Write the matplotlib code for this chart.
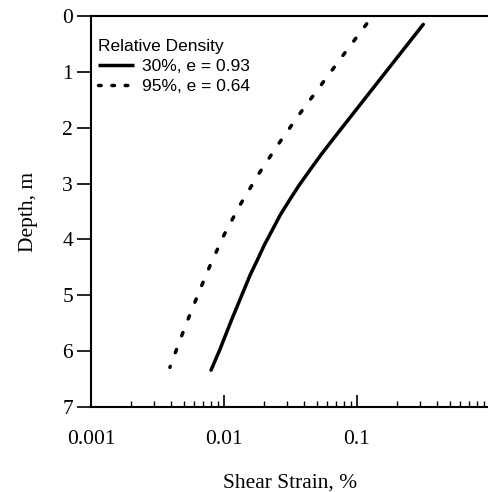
import matplotlib
matplotlib.use('Agg')
import matplotlib.pyplot as plt
from matplotlib.ticker import LogLocator, NullFormatter
import numpy as np

# depth (m) vs shear strain (%)
depth_30 = [0.15, 1.0, 2.22, 2.49, 2.76, 3.03, 3.29, 3.56, 3.83, 4.10, 4.37, 4.64,
            4.91, 5.44, 5.98, 6.34]
strain_30 = [0.315, 0.1649, 0.0653, 0.0534, 0.0442, 0.0367, 0.0312, 0.0265, 0.0231,
             0.0201, 0.0178, 0.0157, 0.0141, 0.0114, 0.00928, 0.00799]
depth_95 = [0.14, 0.68, 1.22, 1.75, 2.29, 2.83, 3.37, 3.90, 4.44, 4.98, 5.51, 6.05, 6.29]
strain_95 = [0.1183, 0.0799, 0.0543, 0.0371, 0.0257, 0.0182, 0.0133, 0.0101, 0.00794,
             0.00639, 0.00520, 0.00427, 0.00392]
labels = ['30%, e = 0.93', '95%, e = 0.64']
legend_title = 'Relative Density'
xticks = [0.001, 0.01, 0.1, 1]
xticklabels = ['0.001', '0.01', '0.1', '1']
yticks = [0, 1, 2, 3, 4, 5, 6, 7]

serif = ['Liberation Serif', 'DejaVu Serif']
sans = ['Liberation Sans', 'DejaVu Sans']

fig = plt.figure(figsize=(4.88, 4.92), dpi=100)
ax = fig.add_axes([91/488, 1 - 407/492, 399/488, 391/492])

ax.plot(strain_30, depth_30, color='black', lw=2.5, solid_capstyle='round',
        solid_joinstyle='round', label=labels[0])
ax.plot(strain_95, depth_95, color='black', lw=2.5, dash_capstyle='round',
        dashes=(1.0, 4.2), label=labels[1])

ax.set_xscale('log')
ax.set_xlim(0.001, 1)
ax.set_ylim(7, 0)

ax.set_xticks(xticks)
ax.set_xticklabels(xticklabels, family=serif, fontsize=15.5)
ax.xaxis.set_minor_locator(LogLocator(base=10, subs=np.arange(2, 10)))
ax.xaxis.set_minor_formatter(NullFormatter())
ax.set_yticks(yticks)
ax.set_yticklabels([str(v) for v in yticks], family=serif, fontsize=15.5)

ax.tick_params(axis='x', which='major', direction='in', length=8.5, width=1.2, pad=16.5)
ax.tick_params(axis='x', which='minor', direction='in', length=4, width=1.0)
ax.tick_params(axis='y', which='major', direction='out', length=10, width=1.2, pad=3)

for side in ['left', 'top', 'bottom']:
    ax.spines[side].set_linewidth(1.5)
ax.spines['right'].set_visible(False)

ax.set_xlabel('Shear Strain, %', family=serif, fontsize=15.5, labelpad=18)
ax.set_ylabel('Depth, m', family=serif, fontsize=15.5, labelpad=17)

leg = ax.legend(title=legend_title, loc='upper left', bbox_to_anchor=(0.0, 0.96),
                frameon=False, prop={'family': sans, 'size': 12.5},
                title_fontproperties={'family': sans, 'size': 12.5},
                alignment='left', handlelength=2.1, handletextpad=0.45,
                labelspacing=0.3, borderpad=0.1, borderaxespad=0.3)
# shorter dash pattern in the legend sample, as in the original
leg.get_lines()[1].set_dashes((0.75, 3.1))
leg.get_lines()[0].set_solid_capstyle('butt')

fig.savefig('out.png', dpi=100)
